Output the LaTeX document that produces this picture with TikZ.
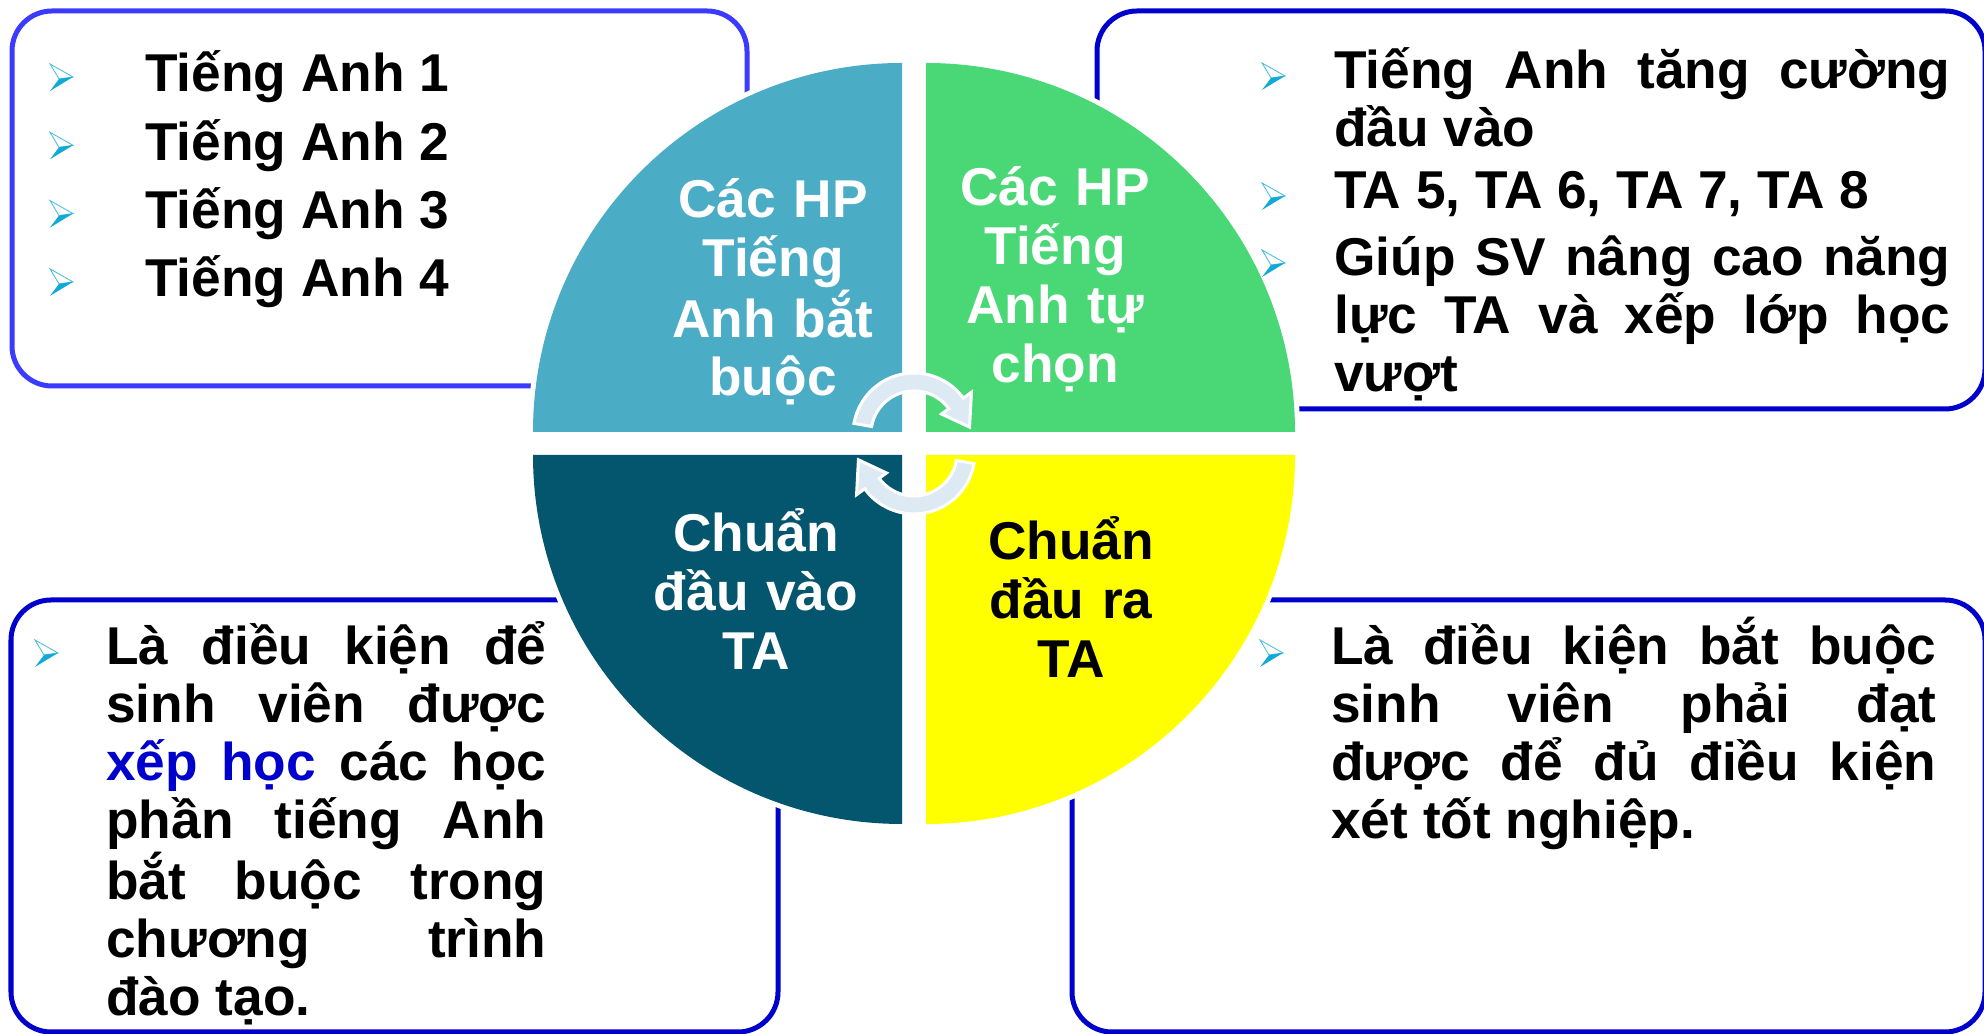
\documentclass[tikz,border=0pt]{standalone}
\usepackage{fontspec}
\setmainfont{Liberation Sans}
\definecolor{hpTeal}{HTML}{4BACC6}
\definecolor{hpGreen}{HTML}{4AD877}
\definecolor{inDark}{HTML}{03566D}
\definecolor{outYellow}{HTML}{FFFF00}
\definecolor{boxLight}{HTML}{3B3BFF}
\definecolor{boxDark}{HTML}{0000CC}
\definecolor{bulletCyan}{HTML}{12A9D8}
\definecolor{cycleBlue}{HTML}{DDEAF4}
\hyphenpenalty=10000
\tolerance=10000
\hbadness=10000

\tikzset{
  bulletmark/.pic={
    \draw[bulletCyan!75, line width=0.5pt, fill=white] (0,0) -- (-0.46,0.26) -- (-0.28,-0.04) -- cycle;
    \fill[bulletCyan] (0,0) -- (-0.28,-0.04) -- (-0.46,-0.28) -- cycle;
  },
  infobox/.style={line width=0.1cm, rounded corners=0.8cm},
  quarter/.style={preaction={draw=white, line width=0.2cm}},
  quartertext/.style={text width=7cm, align=center, anchor=base, font=\fontsize{30.3}{33.4}\selectfont\bfseries},
  listtext/.style={anchor=base west, font=\fontsize{30.3}{33}\selectfont\bfseries},
  paratext/.style={listtext, align=justify},
  cyclearrow/.style={fill=cycleBlue, draw=white, line width=0.06cm}
}

\begin{document}
\begin{tikzpicture}
    \tikzstyle{every node}=[inner sep=0pt]
    \useasboundingbox (0,0) rectangle (39.68,20.68);
    \draw[infobox, boxLight] (0.24,12.96) rectangle (14.94,20.46);
    \draw[infobox, boxDark] (21.94,12.5) rectangle (39.7,20.46);
    \draw[infobox, boxDark] (0.22,0.04) rectangle (15.56,8.68);
    \draw[infobox, boxDark] (21.44,0.04) rectangle (39.7,8.68);
    \foreach \a/\c/\dx/\dy in {90/hpTeal/-1/1, 0/hpGreen/1/1, 180/inDark/-1/-1, 270/outYellow/1/-1}
        \fill[\c, quarter, shift={(0.24*\dx,0.23*\dy)}] (18.28,11.81) -- ++(\a:7.38) arc[start angle=\a, delta angle=90, radius=7.38] -- cycle;
    \node[quartertext, white] (required) at (15.46,16.32) {Các HP\\Tiếng\\Anh bắt\\buộc};
    \node[quartertext, white] (elective) at (21.1,16.56) {Các HP\\Tiếng\\Anh tự\\chọn};
    \node[quartertext, white] (entry) at (15.12,9.64) {Chuẩn\\đầu vào\\TA};
    \node[quartertext] (exit) at (21.42,9.48) {Chuẩn\\đầu ra\\TA};
    \foreach \r in {0,180}
        \filldraw[cyclearrow, rotate around={\r:(18.28,11.81)}, shift={(18.28,12.0)}] (170:0.86) arc[start angle=170, end angle=36, radius=0.86] -- (36:0.68) -- (7:1.12) -- (36:1.42) -- (36:1.22) arc[start angle=36, end angle=170, radius=1.22] -- cycle;
    \foreach \n [count=\i from 0] in {1,2,3,4} {
        \pic at (1.46,19.14-1.366*\i) {bulletmark};
        \node[listtext] (ta\n) at (2.9,18.84-1.366*\i) {Tiếng Anh \n};
    }
    \pic at (25.7,19.16) {bulletmark};
    \node[paratext, text width=12.32cm] (boost) at (26.68,18.9) {Tiếng Anh tăng cường\linebreak đầu vào};
    \pic at (25.7,16.76) {bulletmark};
    \node[listtext] (ta58) at (26.68,16.5) {TA 5, TA 6, TA 7, TA 8};
    \pic at (25.7,15.42) {bulletmark};
    \node[paratext, text width=12.32cm] (placement) at (26.68,15.16) {Giúp SV nâng cao năng\linebreak lực TA và xếp lớp học\linebreak vượt};
    \pic at (1.16,7.62) {bulletmark};
    \node[paratext, text width=8.8cm] (entrynote) at (2.12,7.38) {Là điều kiện để\linebreak sinh viên được\linebreak {\color{boxDark}xếp học} các học\linebreak phần tiếng Anh\linebreak bắt buộc trong\linebreak chương trình\linebreak đào tạo.};
    \pic at (25.66,7.62) {bulletmark};
    \node[paratext, text width=12.1cm] (exitnote) at (26.62,7.38) {Là điều kiện bắt buộc\linebreak sinh viên phải đạt\linebreak được để đủ điều kiện\linebreak xét tốt nghiệp.};
\end{tikzpicture}
\end{document}
